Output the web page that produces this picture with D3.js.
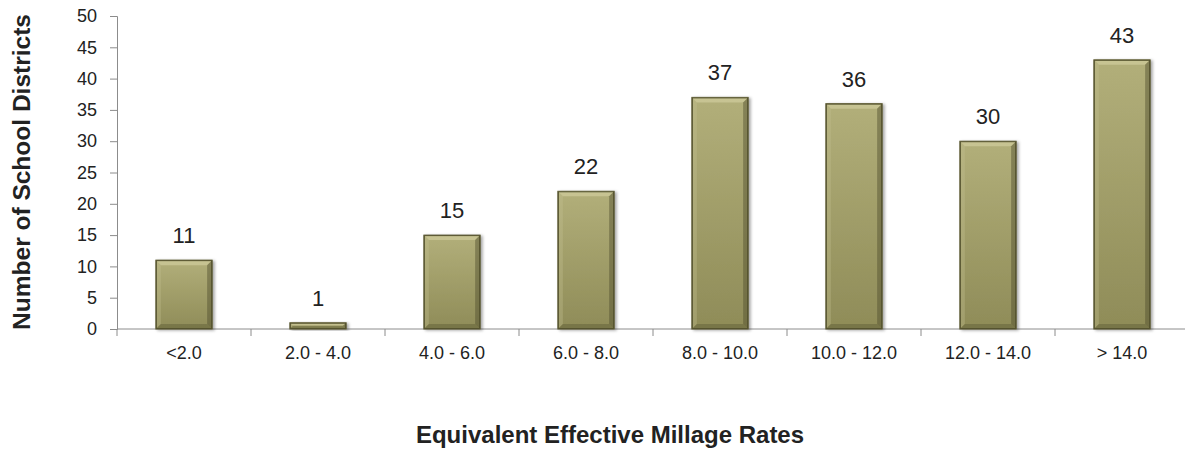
<!DOCTYPE html>
<html>
<head>
<meta charset="utf-8">
<script src="https://cdn.jsdelivr.net/npm/d3@7"></script>
<style>
  body { margin: 0; background: #fff; }
  text { font-family: "Liberation Sans", Arial, sans-serif; fill: #222; }
</style>
</head>
<body>
<div id="chart"></div>
<script>
// rates and number of districts in each bucket
var categories = ["<2.0", "2.0 - 4.0", "4.0 - 6.0", "6.0 - 8.0", "8.0 - 10.0", "10.0 - 12.0", "12.0 - 14.0", "> 14.0"];
var districts = [11, 1, 15, 22, 37, 36, 30, 43];
var yTicks = [0, 5, 10, 15, 20, 25, 30, 35, 40, 45, 50];

var width = 1185, height = 450;
var plotLeft = 117, plotRight = 1189, plotTop = 16, plotBottom = 329;

var svg = d3.select("#chart").append("svg")
    .attr("width", width)
    .attr("height", height);

var defs = svg.append("defs");
var grad = defs.append("linearGradient")
    .attr("id", "barFill")
    .attr("x1", 0).attr("y1", 0).attr("x2", 0).attr("y2", 1);
grad.append("stop").attr("offset", "0%").attr("stop-color", "#b2af7a");
grad.append("stop").attr("offset", "100%").attr("stop-color", "#8f8c58");

var shadow = defs.append("filter").attr("id", "shadow")
    .attr("x", "-20%").attr("y", "-20%").attr("width", "150%").attr("height", "150%");
shadow.append("feDropShadow")
    .attr("dx", 2).attr("dy", 1).attr("stdDeviation", 1.5)
    .attr("flood-color", "#000").attr("flood-opacity", 0.35);

var x = d3.scaleBand()
    .domain(categories)
    .range([plotLeft, plotRight])
    .paddingInner(0.58)
    .paddingOuter(0.29);

var y = d3.scaleLinear()
    .domain([0, 50])
    .range([plotBottom, plotTop]);

// y axis
var yAxis = svg.append("g")
    .attr("transform", "translate(" + plotLeft + ",0)")
    .call(d3.axisLeft(y).tickValues(yTicks).tickSize(7).tickPadding(13));
yAxis.select(".domain").attr("stroke", "#8c8c8c");
yAxis.selectAll(".tick line").attr("stroke", "#8c8c8c");
yAxis.selectAll(".tick text")
    .style("font-size", "18px")
    .style("font-family", "Liberation Sans, Arial, sans-serif")
    .attr("fill", "#222");

// x axis line + boundary ticks
var band = (plotRight - plotLeft) / categories.length;
svg.append("line")
    .attr("x1", plotLeft).attr("x2", plotRight)
    .attr("y1", plotBottom).attr("y2", plotBottom)
    .attr("stroke", "#8c8c8c");
svg.selectAll(".xtick")
    .data(d3.range(categories.length + 1))
    .enter()
    .append("line")
    .attr("x1", function(i){ return plotLeft + i * band; })
    .attr("x2", function(i){ return plotLeft + i * band; })
    .attr("y1", plotBottom)
    .attr("y2", plotBottom + 7)
    .attr("stroke", "#8c8c8c");

svg.selectAll(".xlabel")
    .data(categories)
    .enter()
    .append("text")
    .attr("x", function(d){ return x(d) + x.bandwidth() / 2; })
    .attr("y", plotBottom + 30)
    .attr("text-anchor", "middle")
    .style("font-size", "18px")
    .text(function(d){ return d; });

// bars
var bars = svg.selectAll(".bar")
    .data(districts)
    .enter()
    .append("g")
    .attr("class", "bar");

bars.append("rect")
    .attr("x", function(d, i){ return x(categories[i]); })
    .attr("y", function(d){ return y(d); })
    .attr("width", x.bandwidth())
    .attr("height", function(d){ return y(0) - y(d); })
    .attr("fill", "url(#barFill)")
    .attr("stroke", "#5c5a35")
    .attr("stroke-width", 1)
    .attr("filter", "url(#shadow)");

// bevel edges
function bevel(d, i, side) {
    var x0 = x(categories[i]), x1 = x0 + x.bandwidth();
    var y0 = y(d), y1 = y(0);
    var b = Math.min(5, (y1 - y0) / 2);
    if (side == "top") return [[x0, y0], [x1, y0], [x1 - b, y0 + b], [x0 + b, y0 + b]];
    if (side == "bottom") return [[x0, y1], [x1, y1], [x1 - b, y1 - b], [x0 + b, y1 - b]];
    if (side == "left") return [[x0, y0], [x0 + b, y0 + b], [x0 + b, y1 - b], [x0, y1]];
    return [[x1, y0], [x1 - b, y0 + b], [x1 - b, y1 - b], [x1, y1]];
}
var bevelStyle = {
    top: ["#d8d6a8", 0.55],
    left: ["#c4c192", 0.35],
    right: ["#4e4c2c", 0.45],
    bottom: ["#4e4c2c", 0.35]
};
["top", "left", "right", "bottom"].forEach(function(side){
    bars.append("polygon")
        .attr("points", function(d, i){ return bevel(d, i, side).map(function(p){ return p.join(","); }).join(" "); })
        .attr("fill", bevelStyle[side][0])
        .attr("fill-opacity", bevelStyle[side][1]);
});
bars.append("rect")
    .attr("x", function(d, i){ return x(categories[i]) + 0.5; })
    .attr("y", function(d){ return y(d) + 0.5; })
    .attr("width", x.bandwidth() - 1)
    .attr("height", function(d){ return Math.max(0, y(0) - y(d) - 1); })
    .attr("fill", "none")
    .attr("stroke", "#55532f")
    .attr("stroke-width", 1);

// value labels
svg.selectAll(".value")
    .data(districts)
    .enter()
    .append("text")
    .attr("x", function(d, i){ return x(categories[i]) + x.bandwidth() / 2; })
    .attr("y", function(d){ return y(d) - 17; })
    .attr("text-anchor", "middle")
    .style("font-size", "22px")
    .text(function(d){ return d; });

// axis titles
svg.append("text")
    .attr("transform", "translate(30,172) rotate(-90)")
    .attr("text-anchor", "middle")
    .style("font-size", "24.5px")
    .style("font-weight", "bold")
    .text("Number of School Districts");

svg.append("text")
    .attr("x", 610)
    .attr("y", 443)
    .attr("text-anchor", "middle")
    .style("font-size", "24px")
    .style("font-weight", "bold")
    .text("Equivalent Effective Millage Rates");
</script>
</body>
</html>
